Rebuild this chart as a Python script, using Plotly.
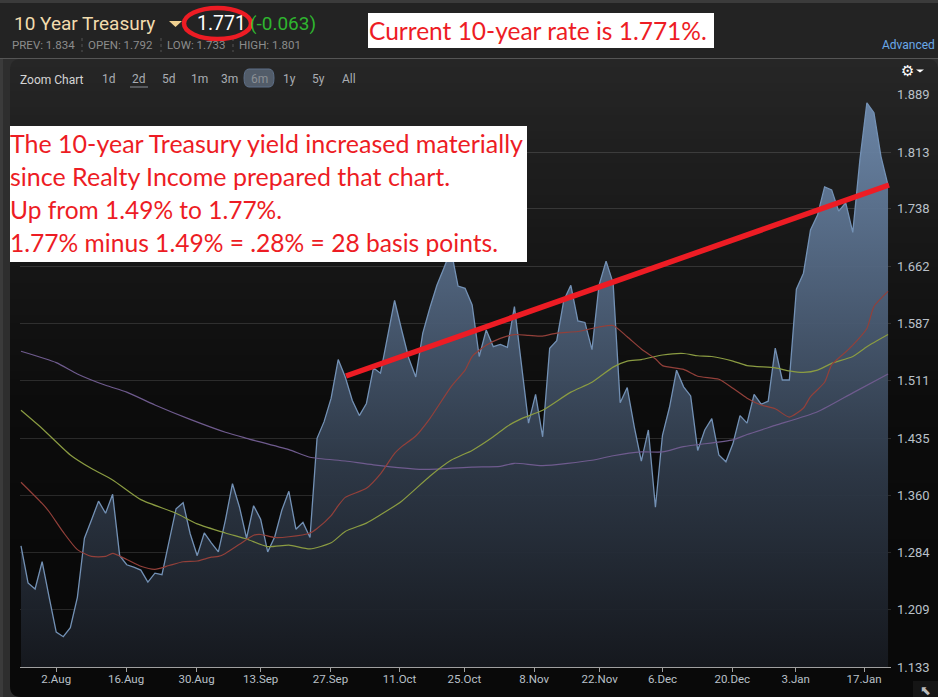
import plotly.graph_objects as go

W, H = 938, 697

# ---------- data ----------
price = [1.293,1.244,1.236,1.272,1.225,1.179,1.173,1.185,1.225,1.303,1.327,1.352,1.336,1.361,1.280,1.268,1.265,1.261,1.245,1.257,
         1.255,1.300,1.342,1.350,1.309,1.280,1.310,1.297,1.285,1.327,1.375,1.344,1.303,1.346,1.328,1.285,1.305,1.340,1.365,1.315,
         1.324,1.304,1.435,1.457,1.488,1.539,1.516,1.485,1.465,1.481,1.528,1.521,1.569,1.617,1.578,1.541,1.516,1.574,1.607,1.637,
         1.660,1.684,1.636,1.633,1.611,1.543,1.578,1.556,1.559,1.555,1.609,1.534,1.455,1.493,1.437,1.554,1.564,1.617,1.637,1.590,
         1.588,1.552,1.637,1.669,1.640,1.482,1.502,1.450,1.405,1.446,1.344,1.439,1.476,1.525,1.503,1.491,1.419,1.446,1.461,1.413,
         1.404,1.428,1.465,1.455,1.493,1.480,1.484,1.554,1.512,1.512,1.632,1.653,1.710,1.730,1.767,1.763,1.735,1.746,1.707,1.802,
         1.878,1.865,1.807,1.769]
session = list(range(len(price)))

red_s = [0,3,4,6,8,10,12,13,15,17,19,21,23,25,27,28,29,31,33,34,36,38,41,42,44,45,46,49,51,53,54,56,58,61,63,64,66,68,70,72,74,76,79,82,84,86,88,90,91,94,96,99,101,103,105,107,109,111,112,114,115,117,118,120,121,123]
red_v = [1.377,1.349,1.338,1.311,1.288,1.279,1.279,1.283,1.275,1.266,1.262,1.267,1.272,1.273,1.278,1.279,1.283,1.295,1.307,1.308,1.304,1.305,1.310,1.316,1.333,1.346,1.357,1.369,1.388,1.415,1.424,1.438,1.461,1.503,1.525,1.543,1.558,1.567,1.572,1.571,1.570,1.574,1.576,1.582,1.584,1.569,1.553,1.540,1.531,1.526,1.517,1.513,1.501,1.488,1.479,1.474,1.463,1.475,1.490,1.509,1.532,1.549,1.558,1.580,1.609,1.629]

green_s = [0,3,7,10,13,17,22,25,29,32,35,38,41,44,46,49,51,54,58,61,64,67,69,71,74,78,81,84,86,88,91,94,96,98,101,103,107,109,111,113,115,118,120,123]
green_v = [1.472,1.448,1.413,1.395,1.380,1.354,1.336,1.322,1.310,1.302,1.292,1.294,1.289,1.297,1.312,1.323,1.334,1.352,1.385,1.406,1.419,1.437,1.451,1.461,1.472,1.496,1.509,1.529,1.537,1.539,1.545,1.547,1.544,1.543,1.537,1.531,1.528,1.524,1.522,1.525,1.534,1.543,1.556,1.572]

purple_s = [0,5,8,12,15,19,24,29,32,38,41,46,50,57,64,68,70,74,81,84,88,91,94,101,103,107,113,118,123]
purple_v = [1.550,1.535,1.520,1.505,1.496,1.479,1.460,1.443,1.435,1.420,1.410,1.405,1.400,1.394,1.397,1.398,1.402,1.399,1.406,1.412,1.417,1.417,1.424,1.433,1.440,1.452,1.470,1.495,1.520]

x_tick_pos = [5,14.9,24.9,34,43.9,53.7,62.9,72.8,82.1,91,100.9,109.9,119.6]
x_tick_labels = ["2.Aug","16.Aug","30.Aug","13.Sep","27.Sep","11.Oct","25.Oct","8.Nov","22.Nov","6.Dec","20.Dec","3.Jan","17.Jan"]
y_ticks = [1.133,1.209,1.284,1.360,1.435,1.511,1.587,1.662,1.738,1.813,1.889]

zoom_labels = ["1d","2d","5d","1m","3m","6m","1y","5y","All"]
quote_stats = ["PREV: 1.834","OPEN: 1.792","LOW: 1.733","HIGH: 1.801"]
note_lines = ["The 10-year Treasury yield increased materially",
              "since Realty Income prepared that chart.",
              "Up from 1.49% to 1.77%.",
              "1.77% minus 1.49% = .28% = 28 basis points."]

# ---------- helpers: pixel position -> paper fraction ----------
def px(x): return x / W
def py(y): return 1 - y / H

RED = "#ed1c24"
shapes, ann = [], []

def rect(x0, y0, x1, y1, fill, layer="below"):
    shapes.append(dict(type="rect", xref="paper", yref="paper", x0=px(x0), x1=px(x1), y0=py(y0), y1=py(y1),
                       fillcolor=fill, line_width=0, layer=layer))

def text(x, y, s, size, color, font="Roboto", anchor="left"):
    ann.append(dict(xref="paper", yref="paper", x=px(x), y=py(y), text=s, showarrow=False, xanchor=anchor,
                    yanchor="middle", font=dict(family=font, size=size, color=color), borderpad=0, borderwidth=0))

def corner(cx, cy, ex, ey, fill):
    shapes.append(dict(type="path", xref="paper", yref="paper", layer="below", line_width=0, fillcolor=fill,
                       path=f"M {px(cx)} {py(cy)} L {px(ex)} {py(cy)} Q {px(cx)} {py(cy)} {px(cx)} {py(ey)} Z"))

# page chrome
rect(0, 0, W, H, "#3b3b3b")
rect(0, 3, W, 58, "#232323")
rect(0, 58, W, 59, "#555555")
rect(3, 59, 10, H, "#2e2e2e")

# panel gradient built from bands
def mix(t):
    stops = [(59, 38), (230, 24), (400, 12), (560, 9), (697, 9)]
    for (a, ca), (b, cb) in zip(stops, stops[1:]):
        if a <= t <= b:
            return round(ca + (cb - ca) * (t - a) / (b - a))
    return 9
for y0 in range(59, H, 8):
    c = mix(y0)
    rect(10, y0, W, min(y0 + 8, H), f"rgb({c},{c},{c})")

# rounded panel corners
def corner_mask(x0, y0, xc, yc, x1, y1, fill):
    shapes.append(dict(type="path", xref="paper", yref="paper", layer="below", line_width=0, fillcolor=fill,
                       path=f"M {px(xc)} {py(yc)} L {px(x0)} {py(y0)} Q {px(xc)} {py(yc)} {px(x1)} {py(y1)} Z"))
corner_mask(10, 70, 10, 59, 21, 59, "#2e2e2e")
corner_mask(927, 59, 938, 59, 938, 70, "#2e2e2e")
corner_mask(10, 686, 10, 697, 21, 697, "#2e2e2e")

# header texts
text(14, 24, "10 Year Treasury", 19, "#f2dcae", "Roboto")
shapes.append(dict(type="path", xref="paper", yref="paper", layer="above", line_width=0, fillcolor="#f0d090",
                   path=f"M {px(169)} {py(21)} L {px(182)} {py(21)} L {px(175.5)} {py(27)} Z"))
text(197, 24, "1.771", 19.5, "#ffffff", "Roboto")
text(250, 24, "(-0.063)", 19, "#2fb52f", "Roboto")
for sx, s in zip([12, 88, 167, 239], quote_stats):
    text(sx, 45, s, 11.5, "#8c8c8c", "Roboto")
for sx in [82, 161, 233]:
    shapes.append(dict(type="line", xref="paper", yref="paper", x0=px(sx), x1=px(sx), y0=py(38), y1=py(52),
                       line=dict(color="#555555", width=1, dash="dot")))
text(935, 45, "Advanced", 12, "#6aa9e9", "Roboto", "right")

# zoom bar
text(20, 80, "Zoom Chart", 12, "#d5d5d5", "Roboto")
shapes.append(dict(type="path", xref="paper", yref="paper", layer="below", fillcolor="#525c69",
                   line=dict(color="#5d6f88", width=1),
                   path=f"M {px(249)} {py(69)} L {px(269)} {py(69)} Q {px(274)} {py(69)} {px(274)} {py(78)} "
                        f"Q {px(274)} {py(87)} {px(269)} {py(87)} L {px(249)} {py(87)} "
                        f"Q {px(244)} {py(87)} {px(244)} {py(78)} Q {px(244)} {py(69)} {px(249)} {py(69)} Z"))
for cx, s in zip([109, 139, 169, 199, 229, 259, 289, 318.5, 348.5], zoom_labels):
    text(cx, 78.5, s, 12, "#8b8f94" if s == "6m" else "#a9adb3", "Roboto", "center")
shapes.append(dict(type="line", xref="paper", yref="paper", x0=px(130), x1=px(148), y0=py(87), y1=py(87),
                   line=dict(color="#8a8f96", width=1)))
text(907, 71, "⚙", 15, "#ffffff", "DejaVu Sans", "center")
shapes.append(dict(type="path", xref="paper", yref="paper", layer="above", line_width=0, fillcolor="#ffffff",
                   path=f"M {px(916)} {py(69.5)} L {px(924)} {py(69.5)} L {px(920)} {py(72.5)} Z"))

# resize corner
rect(913, 681, W, H, "#151515")
text(925, 690, "⬉", 13, "#b9b9b9", "DejaVu Sans", "center")

# white overlay boxes
rect(368, 13, 714, 48, "#ffffff", "above")
rect(10, 126, 527, 262, "#ffffff", "above")
text(369, 31, "Current 10-year rate is 1.771%.", 24.5, RED, "Lato")
for ly, s, fs in zip([143.5, 176.5, 209.5, 242.5], note_lines, [25, 25, 24.5, 24.6]):
    text(10, ly, s, fs, RED, "Lato")

# red ellipse and line annotations
shapes.append(dict(type="circle", xref="paper", yref="paper", x0=px(184), x1=px(251), y0=py(8), y1=py(39),
                   line=dict(color=RED, width=4.5), layer="above"))
shapes.append(dict(type="line", xref="paper", yref="paper", x0=px(346), x1=px(889), y0=py(376), y1=py(185),
                   line=dict(color=RED, width=5.5), layer="above"))

fig = go.Figure()
fig.add_trace(go.Scatter(
    x=session, y=price, mode="lines", line=dict(color="#7391b5", width=1.3), fill="tozeroy",
    fillgradient=dict(type="vertical", start=1.889, stop=1.133,
                      colorscale=[[0, "rgba(112,140,175,0.95)"], [0.35, "rgba(78,97,122,0.95)"],
                                  [0.65, "rgba(47,58,73,0.95)"], [1, "rgba(22,25,31,0.95)"]]),
    hoverinfo="skip", showlegend=False))
for xs, ys, col in [(purple_s, purple_v, "#6f5b8e"), (green_s, green_v, "#8b9c42"), (red_s, red_v, "#93403a")]:
    fig.add_trace(go.Scatter(x=xs, y=ys, mode="lines", line=dict(color=col, width=1.2, shape="spline", smoothing=0.6),
                             showlegend=False))

fig.update_layout(
    width=W, height=H, autosize=False, margin=dict(l=0, r=0, t=0, b=0, pad=0, autoexpand=False),
    paper_bgcolor="#0a0a0a", plot_bgcolor="rgba(0,0,0,0)", showlegend=False,
    shapes=shapes, annotations=ann,
    xaxis=dict(domain=[px(20), px(891)], range=[-0.14, 123.42], tickmode="array", tickvals=x_tick_pos,
               ticktext=x_tick_labels, showgrid=False, zeroline=False, showline=True, linecolor="#a0a0a0",
               linewidth=1, ticks="outside", ticklen=4, tickcolor="#a0a0a0", automargin=False, ticklabelstandoff=-3,
               tickfont=dict(family="Roboto", size=11.5, color="#b9c0c8")),
    yaxis=dict(domain=[py(667), py(94.5)], range=[1.133, 1.889], side="right", tickmode="array", tickvals=y_ticks,
               ticktext=[f"{v:.3f}" for v in y_ticks], showgrid=True, gridcolor="rgba(255,255,255,0.13)", gridwidth=1,
               zeroline=False, showline=False, ticks="", ticklabelstandoff=5, automargin=False,
               tickfont=dict(family="Roboto", size=13, color="#b9c0c8")),
)

fig.write_html("out.html", config=dict(displayModeBar=False),
               post_script="document.body.style.margin='0';document.body.style.overflow='hidden';")
